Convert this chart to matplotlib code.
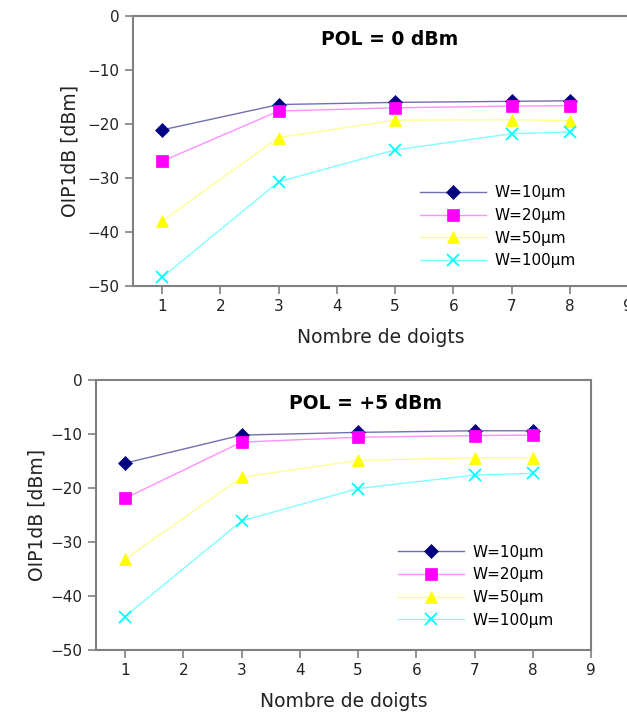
import matplotlib.pyplot as plt

# number of fingers
doigts = [1, 3, 5, 7, 8]

# POL = 0 dBm
pol0_w10 = [-21.1, -16.4, -16.0, -15.8, -15.7]
pol0_w20 = [-26.9, -17.6, -17.0, -16.7, -16.6]
pol0_w50 = [-38.0, -22.5, -19.3, -19.2, -19.4]
pol0_w100 = [-48.4, -30.7, -24.8, -21.8, -21.5]

# POL = +5 dBm
pol5_w10 = [-15.4, -10.2, -9.7, -9.4, -9.4]
pol5_w20 = [-21.9, -11.5, -10.6, -10.3, -10.2]
pol5_w50 = [-33.2, -18.0, -14.9, -14.4, -14.4]
pol5_w100 = [-43.8, -26.1, -20.1, -17.6, -17.3]

labels = ["W=10µm", "W=20µm", "W=50µm", "W=100µm"]
titles = ["POL = 0 dBm", "POL = +5 dBm"]
xticks = [1, 2, 3, 4, 5, 6, 7, 8, 9]
yticks = [0, -10, -20, -30, -40, -50]

marker_colors = ["#000080", "#ff00ff", "#ffff00", "#00ffff"]
line_colors = ["#7070b0", "#ff90ff", "#ffff90", "#80ffff"]
markers = ["D", "s", "^", "x"]
msizes = [7, 8.5, 9, 9]

grey = "#808080"

fig = plt.figure(figsize=(6.27, 7.15), dpi=100)
ax_top = fig.add_axes([133 / 627, 1 - 286 / 715, 495 / 627, 270 / 715])
ax_bot = fig.add_axes([96 / 627, 1 - 650 / 715, 495 / 627, 270 / 715])

panels = [
    (ax_top, [pol0_w10, pol0_w20, pol0_w50, pol0_w100], titles[0], (4.9, -4.4),
     (0.58, 0.373), 6),
    (ax_bot, [pol5_w10, pol5_w20, pol5_w50, pol5_w100], titles[1], (5.13, -4.3),
     (0.61, 0.39), 3),
]

for ax, series, title, tpos, legpos, ypad in panels:
    for vals, lab, mc, lc, mk, ms in zip(series, labels, marker_colors, line_colors, markers, msizes):
        ax.plot(doigts, vals, color=lc, lw=1.0, marker=mk, ms=ms,
                markerfacecolor=mc, markeredgecolor=mc,
                markeredgewidth=1.3 if mk == "x" else 0.5, label=lab)
    ax.set_xlim(0.5, 9)
    ax.set_ylim(-50, 0)
    ax.set_xticks(xticks)
    ax.set_yticks(yticks)
    for sp in ax.spines.values():
        sp.set_color(grey)
        sp.set_linewidth(1.5)
    ax.tick_params(colors=grey, labelcolor="#222222", labelsize=11, length=6, width=1.2)
    ax.set_xlabel("Nombre de doigts", fontsize=13.5, color="#222222", labelpad=10)
    ax.set_ylabel("OIP1dB [dBm]", fontsize=13.5, color="#222222", labelpad=ypad)
    ax.text(tpos[0], tpos[1], title, fontsize=13.5, fontweight="bold",
            ha="center", va="center")
    ax.legend(loc="upper left", bbox_to_anchor=legpos, frameon=False, fontsize=11,
              handlelength=4.3, labelspacing=0.5, handletextpad=0.6, borderpad=0,
              borderaxespad=0)

# top chart is cropped on the right in the original
ax_top.spines["right"].set_visible(False)

fig.savefig("out.png", dpi=100)
